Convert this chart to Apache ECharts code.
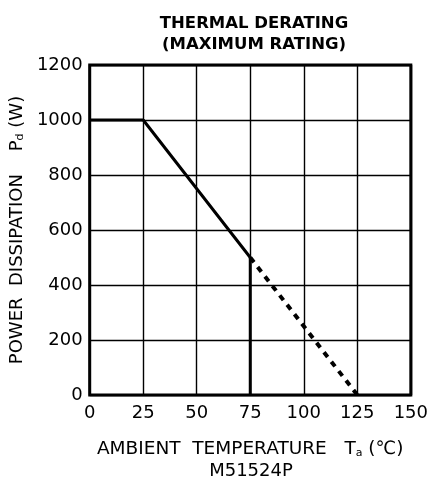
<!DOCTYPE html>
<html>
<head>
<meta charset="utf-8">
<script src="https://cdn.jsdelivr.net/npm/echarts@6/dist/echarts.min.js"></script>
<style>html,body{margin:0;padding:0;background:#fff;}#c{width:431px;height:483px;}</style>
</head>
<body>
<div id="c"></div>
<script>
var xTicks = [0, 25, 50, 75, 100, 125, 150];
var yTicks = [0, 200, 400, 600, 800, 1000, 1200];
var ratedCurve = [[0, 1000], [25, 1000], [75, 500]];
var extrapolated = [[75, 500], [125, 0]];
var dropLine = [[75, 0], [75, 500]];

var FONT = 'DejaVu Sans';
var subStyle = {fontFamily: FONT, fontSize: 11, color: '#000', verticalAlign: 'bottom', padding: [7, 0, 0, 0]};
var chart = echarts.init(document.getElementById('c'), null, {renderer: 'canvas'});
chart.setOption({
  animation: false,
  backgroundColor: '#fff',
  title: {
    text: 'THERMAL DERATING\n(MAXIMUM RATING)',
    left: 249, top: 8, textAlign: 'center',
    textStyle: {fontFamily: FONT, fontWeight: 'bold', fontSize: 16.5, color: '#000', lineHeight: 21}
  },
  grid: {left: 89, right: 18, top: 65, bottom: 88, show: true, borderColor: '#000', borderWidth: 3, backgroundColor: 'transparent'},
  xAxis: {
    type: 'value', min: xTicks[0], max: xTicks[xTicks.length - 1], interval: 25,
    name: 'AMBIENT  TEMPERATURE   T{s|a} (℃)', nameLocation: 'middle', nameGap: 45,
    nameTextStyle: {fontFamily: FONT, fontSize: 18.5, color: '#000', rich: {s: subStyle}},
    axisLine: {show: false}, axisTick: {show: false},
    axisLabel: {fontFamily: FONT, fontSize: 18, color: '#000', margin: 9, formatter: function (v) { return String(v); }},
    splitLine: {show: true, lineStyle: {color: '#000', width: 1.4}}
  },
  yAxis: {
    type: 'value', min: yTicks[0], max: yTicks[yTicks.length - 1], interval: 200,
    name: 'POWER  DISSIPATION    P{s|d} (W)', nameLocation: 'middle', nameGap: 62, nameRotate: 90,
    nameTextStyle: {fontFamily: FONT, fontSize: 18, color: '#000', rich: {s: subStyle}},
    axisLine: {show: false}, axisTick: {show: false},
    axisLabel: {fontFamily: FONT, fontSize: 18, color: '#000', margin: 7, formatter: function (v) { return String(v); }},
    splitLine: {show: true, lineStyle: {color: '#000', width: 1.4}}
  },
  graphic: [{
    type: 'text', x: 251, y: 462,
    style: {text: 'M51524P', fontFamily: FONT, fontSize: 18, fill: '#000', textAlign: 'center'}
  }],
  series: [
    {type: 'line', data: ratedCurve, symbol: 'none', lineStyle: {color: '#000', width: 3}},
    {type: 'line', data: extrapolated, symbol: 'none', lineStyle: {color: '#000', width: 4, type: [6, 6]}},
    {type: 'line', data: dropLine, symbol: 'none', lineStyle: {color: '#000', width: 3}}
  ]
});
</script>
</body>
</html>
